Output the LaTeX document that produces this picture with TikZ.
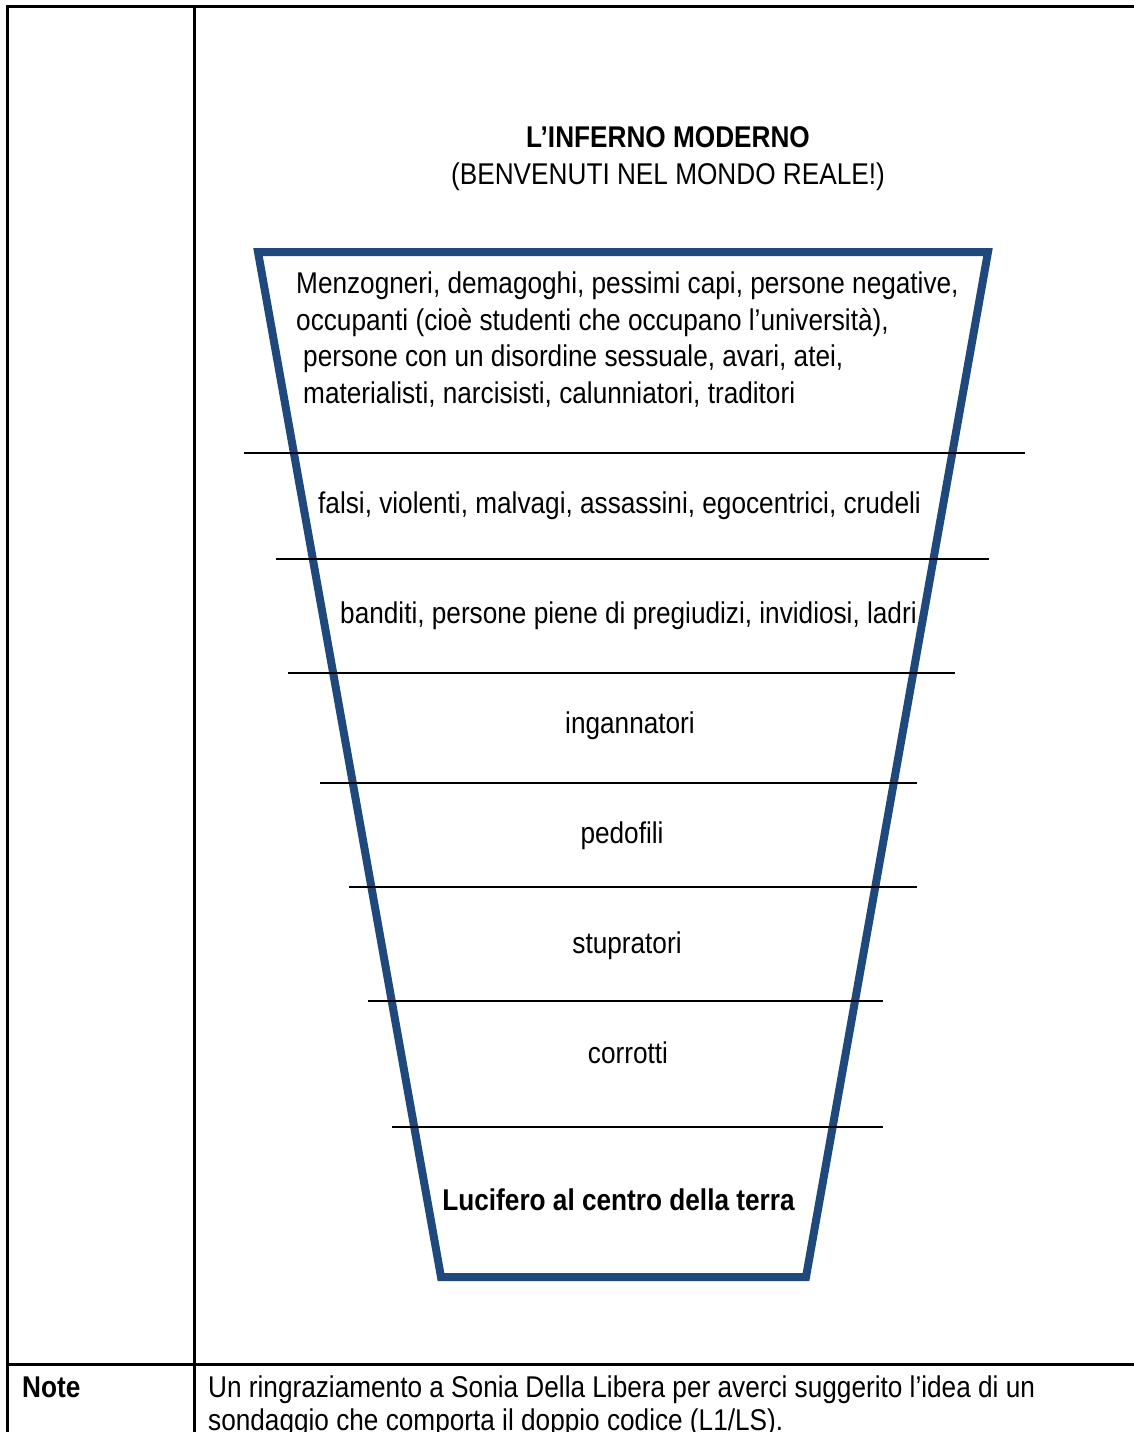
\documentclass[tikz,border=0pt]{standalone}
\usepackage{fontspec}
\setmainfont[FakeStretch=0.873]{Liberation Sans}
\definecolor{funnelblue}{RGB}{31,73,125}
\begin{document}
\begin{tikzpicture}[x=1pt,y=-1pt,
  tableline/.style={line width=3pt,black},
  levelline/.style={line width=2pt,black},
  funnel/.style={line width=8pt,funnelblue,line join=miter},
  txt/.style={inner sep=0pt,font=\fontsize{30}{37}\selectfont},
  txtl/.style={txt,anchor=base west},
  txtc/.style={txt,anchor=base},
  txtb/.style={txt,anchor=base,font=\fontsize{30}{37}\selectfont\bfseries}]
\useasboundingbox (0,0) rectangle (1134,1432);
% table
\draw[tableline] (7,1440) -- (7,6) -- (1140,6);
\draw[tableline] (194,6) -- (194,1440);
\draw[tableline] (7,1364) -- (1140,1364);
% funnel
\coordinate (tl) at (258,252);
\coordinate (tr) at (988,252);
\coordinate (br) at (806,1277);
\coordinate (bl) at (441,1277);
\draw[funnel] (tl) -- (tr) -- (br) -- (bl) -- cycle;
% level lines
\draw[levelline] (244,453) -- (1025,453);
\draw[levelline] (276,559) -- (989,559);
\draw[levelline] (288,673) -- (955,673);
\draw[levelline] (320,783) -- (917,783);
\draw[levelline] (349,887) -- (917,887);
\draw[levelline] (368,1001) -- (883,1001);
\draw[levelline] (392,1127) -- (883,1127);
% title
\node[txtb] (title) at (668,147) {L’INFERNO MODERNO};
\node[txtc] (subtitle) at (668,184) {(BENVENUTI NEL MONDO REALE!)};
% levels
\node[txtl] (l1a) at (296,293) {Menzogneri, demagoghi, pessimi capi, persone negative,};
\node[txtl] (l1b) at (296,330) {occupanti (cioè studenti che occupano l’università),};
\node[txtl] (l1c) at (303,366) {persone con un disordine sessuale, avari, atei,};
\node[txtl] (l1d) at (303,403) {materialisti, narcisisti, calunniatori, traditori};
\node[txtl] (l2) at (318,513) {falsi, violenti, malvagi, assassini, egocentrici, crudeli};
\node[txtl] (l3) at (340,623) {banditi, persone piene di pregiudizi, invidiosi, ladri};
\node[txtc] (l4) at (630,733) {ingannatori};
\node[txtc] (l5) at (622,843) {pedofili};
\node[txtc] (l6) at (627,953) {stupratori};
\node[txtc] (l7) at (628,1063) {corrotti};
\node[txtb] (l8) at (618.5,1210) {Lucifero al centro della terra};
% note row
\node[txtl,font=\fontsize{30}{37}\selectfont\bfseries] (notelabel) at (22,1397) {Note};
\node[txtl] (note1) at (208,1397) {Un ringraziamento a Sonia Della Libera per averci suggerito l’idea di un};
\node[txtl] (note2) at (208,1430) {sondaggio che comporta il doppio codice (L1/LS).};
\end{tikzpicture}
\end{document}
